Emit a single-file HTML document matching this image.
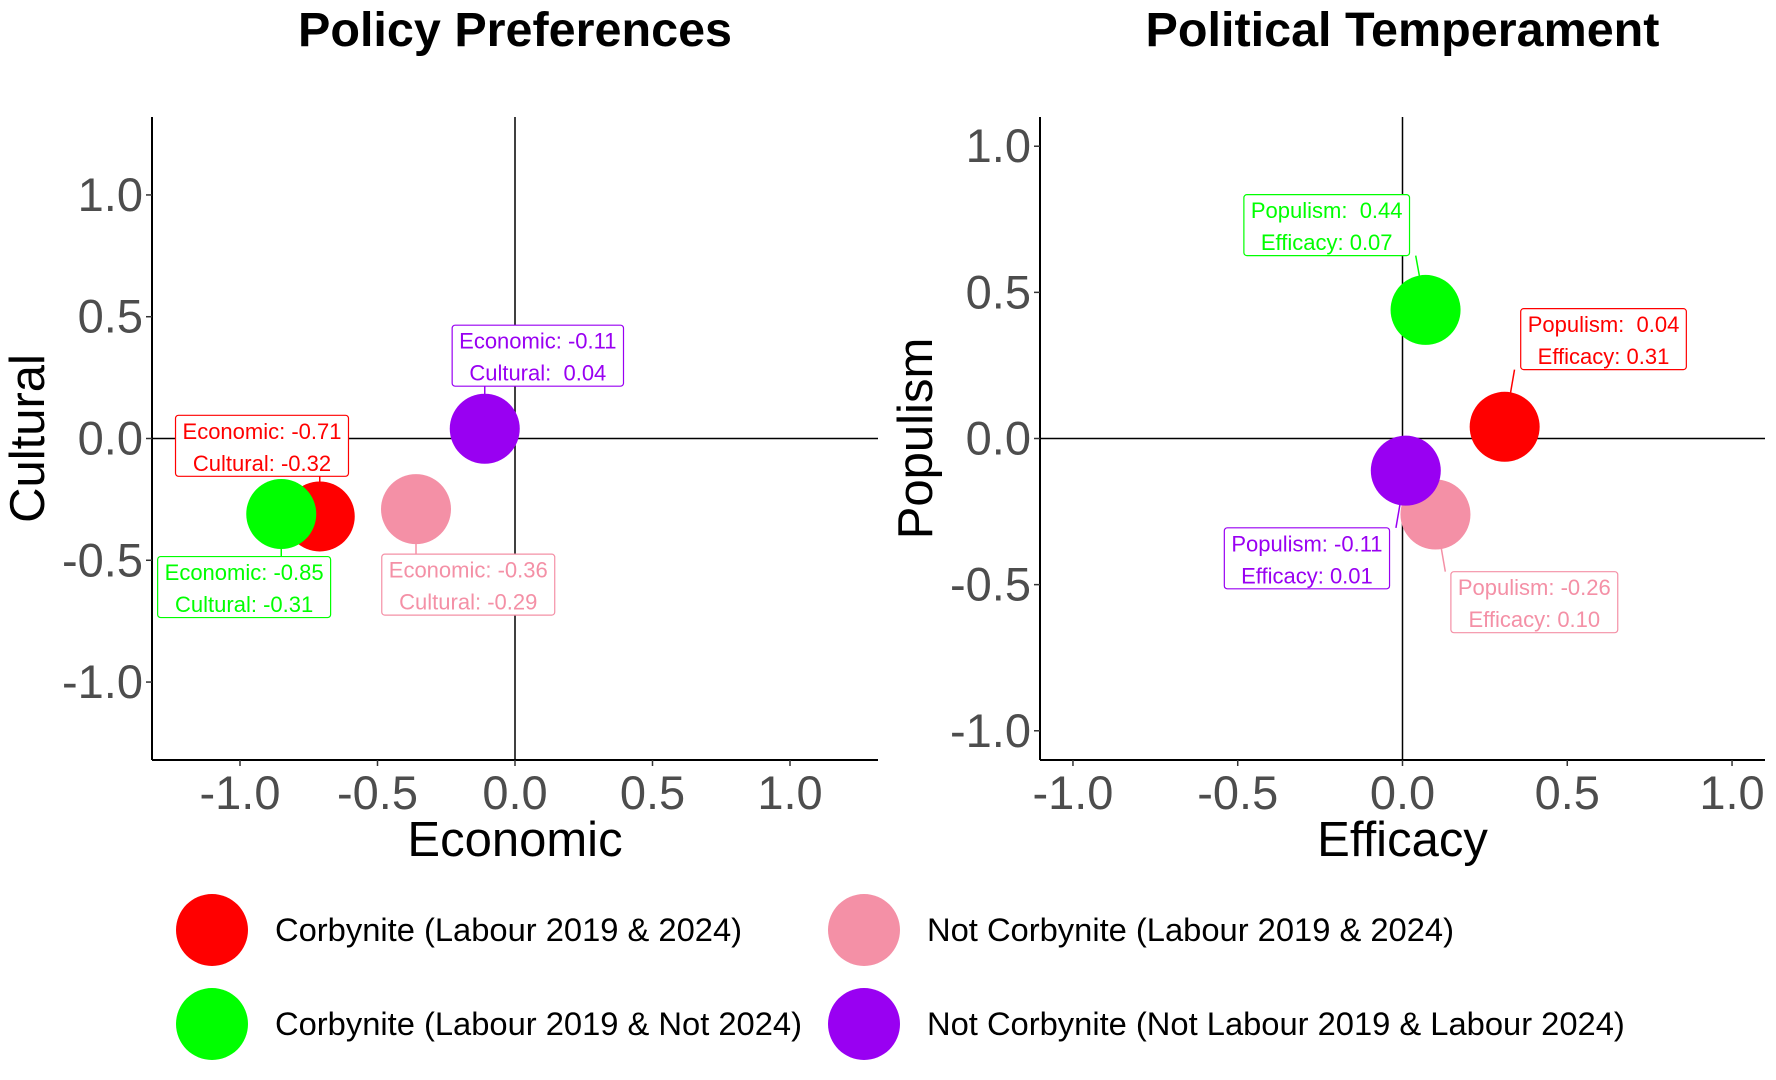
<!DOCTYPE html>
<html><head><meta charset="utf-8">
<style>
html,body{margin:0;padding:0;background:#fff;}
svg{display:block;font-family:"Liberation Sans",Arial,sans-serif;}
</style></head>
<body>
<svg id="chart" width="1776" height="1080" viewBox="0 0 1776 1080" xmlns="http://www.w3.org/2000/svg"></svg>
<script>
// ---- data ----
const groups = ["Corbynite (Labour 2019 & 2024)","Corbynite (Labour 2019 & Not 2024)","Not Corbynite (Labour 2019 & 2024)","Not Corbynite (Not Labour 2019 & Labour 2024)"];
const colors = ["#FF0000","#00FF00","#F490A6","#9900F2"];
const economic = [-0.71,-0.85,-0.36,-0.11];
const cultural = [-0.32,-0.31,-0.29,0.04];
const efficacy = [0.31,0.07,0.10,0.01];
const populism = [0.04,0.44,-0.26,-0.11];
const leftLabelX = [-0.92,-0.985,-0.17,0.083];
const leftLabelY = [-0.03,-0.61,-0.60,0.34];
const rightLabelX = [0.61,-0.23,0.40,-0.29];
const rightLabelY = [0.34,0.73,-0.56,-0.41];
const leftTicks = [-1.0,-0.5,0.0,0.5,1.0];
const rightTicks = [-1.0,-0.5,0.0,0.5,1.0];

const NS="http://www.w3.org/2000/svg";
const svg=document.getElementById('chart');
function mk(tag,attrs,parent){const e=document.createElementNS(NS,tag);for(const k in attrs)e.setAttribute(k,attrs[k]);(parent||svg).appendChild(e);return e;}
function fmt(v){return v.toFixed(1);}
function fmt2(v){return (v<0?"-":" ")+Math.abs(v).toFixed(2);}

function panel(cfg){
  const g=mk('g',{});
  
  
  const L=cfg.left,R=cfg.right,T=117,B=760;
  const sx=v=>L+(v-cfg.lim[0])/(cfg.lim[1]-cfg.lim[0])*(R-L);
  const sy=v=>B-(v-cfg.lim[0])/(cfg.lim[1]-cfg.lim[0])*(B-T);
  const t=mk('text',{x:(L+R)/2,y:46,'text-anchor':'middle','font-size':48.5,'font-weight':'bold',fill:'#000'},g);
  t.textContent=cfg.title;
  
  
  const zx=mk('line',{x1:sx(0),x2:sx(0),y1:T,y2:B,stroke:'#000','stroke-width':1.5},g);
  
  
  const zy=mk('line',{x1:L,x2:R,y1:sy(0),y2:sy(0),stroke:'#000','stroke-width':1.5},g);
  
  
  const ax=mk('line',{x1:L,x2:R,y1:B,y2:B,stroke:'#000','stroke-width':2},g);
  
  
  const ay=mk('line',{x1:L,x2:L,y1:T,y2:B,stroke:'#000','stroke-width':2},g);
  
  
  cfg.ticks.forEach(v=>{
    mk('line',{x1:sx(v),x2:sx(v),y1:B,y2:B+6,stroke:'#333','stroke-width':1.5},g);
    const tx=mk('text',{x:sx(v),y:B+49,'text-anchor':'middle','font-size':47,fill:'#4d4d4d'},g);
    tx.textContent=fmt(v);
    
    
    mk('line',{x1:L-6,x2:L,y1:sy(v),y2:sy(v),stroke:'#333','stroke-width':1.5},g);
    const ty=mk('text',{x:L-9,y:sy(v)+16,'text-anchor':'end','font-size':47,fill:'#4d4d4d'},g);
    ty.textContent=fmt(v);
    
    
  });
  const xt=mk('text',{x:(L+R)/2,y:856,'text-anchor':'middle','font-size':49,fill:'#000'},g);
  xt.textContent=cfg.xTitle;
  
  
  const yt=mk('text',{x:0,y:0,'text-anchor':'middle','font-size':49,fill:'#000',transform:`translate(${L-108},${(T+B)/2}) rotate(-90)`},g);
  yt.textContent=cfg.yTitle;
  
  
  const pts=[];
  cfg.xs.forEach((xv,i)=>{
    const c=mk('circle',{cx:sx(xv),cy:sy(cfg.ys[i]),r:35,fill:colors[i]},g);
    
    
    pts.push([sx(xv),sy(cfg.ys[i])]);
  });
  cfg.xs.forEach((xv,i)=>{
    const cx=sx(cfg.lx[i]),cy=sy(cfg.ly[i]);
    const w=178,h=61;
    const [px,py]=pts[i];
    const nx=Math.max(cx-w/2,Math.min(px,cx+w/2));
    const ny=Math.max(cy-h/2,Math.min(py,cy+h/2));
    const dx=nx-px,dy=ny-py,d=Math.hypot(dx,dy)||1;
    const st=Math.min(d,12);
    const seg=mk('line',{x1:px+dx/d*st,y1:py+dy/d*st,x2:nx,y2:ny,stroke:colors[i],'stroke-width':1.5},g);
    
    
    const lg=mk('g',{},g);
    
    
    mk('rect',{x:cx-w/2,y:cy-h/2,width:w,height:h,rx:3,fill:'#fff',stroke:colors[i],'stroke-width':1.2},lg);
    const l1=mk('text',{x:cx,y:cy-7,'text-anchor':'middle','font-size':22,fill:colors[i],'xml:space':'preserve'},lg);
    l1.textContent=cfg.n1+": "+fmt2(cfg.v1[i]).replace(/^ /, cfg.n1pad?" ":"");
    const l2=mk('text',{x:cx,y:cy+25,'text-anchor':'middle','font-size':22,fill:colors[i],'xml:space':'preserve'},lg);
    l2.textContent=cfg.n2+": "+fmt2(cfg.v2[i]).replace(/^ /, cfg.n2pad?" ":"");
    l1.style.whiteSpace='pre';l2.style.whiteSpace='pre';
    const bw=Math.max(l1.getBBox().width,l2.getBBox().width)+14;
    lg.firstChild.setAttribute('x',cx-bw/2);lg.firstChild.setAttribute('width',bw);
  });
}

panel({name:'policy-preferences-panel',title:'Policy Preferences',left:152,right:878,lim:[-1.32,1.32],ticks:leftTicks,
  xTitle:'Economic',yTitle:'Cultural',xs:economic,ys:cultural,lx:leftLabelX,ly:leftLabelY,
  n1:'Economic',v1:economic,n1pad:false,n2:'Cultural',v2:cultural,n2pad:true});
panel({name:'political-temperament-panel',title:'Political Temperament',left:1040,right:1765,lim:[-1.1,1.1],ticks:rightTicks,
  xTitle:'Efficacy',yTitle:'Populism',xs:efficacy,ys:populism,lx:rightLabelX,ly:rightLabelY,
  n1:'Populism',v1:populism,n1pad:true,n2:'Efficacy',v2:efficacy,n2pad:false});

const lgx=[212,212,864,864], lgy=[930,1024,930,1024];
const leg=mk('g',{});


groups.forEach((gname,i)=>{
  const e=mk('g',{},leg);
  
  
  mk('circle',{cx:lgx[i],cy:lgy[i],r:36,fill:colors[i]},e);
  const t=mk('text',{x:lgx[i]+63,y:lgy[i]+11,'font-size':32.7,fill:'#000'},e);
  t.textContent=gname;
});
</script>
</body></html>
